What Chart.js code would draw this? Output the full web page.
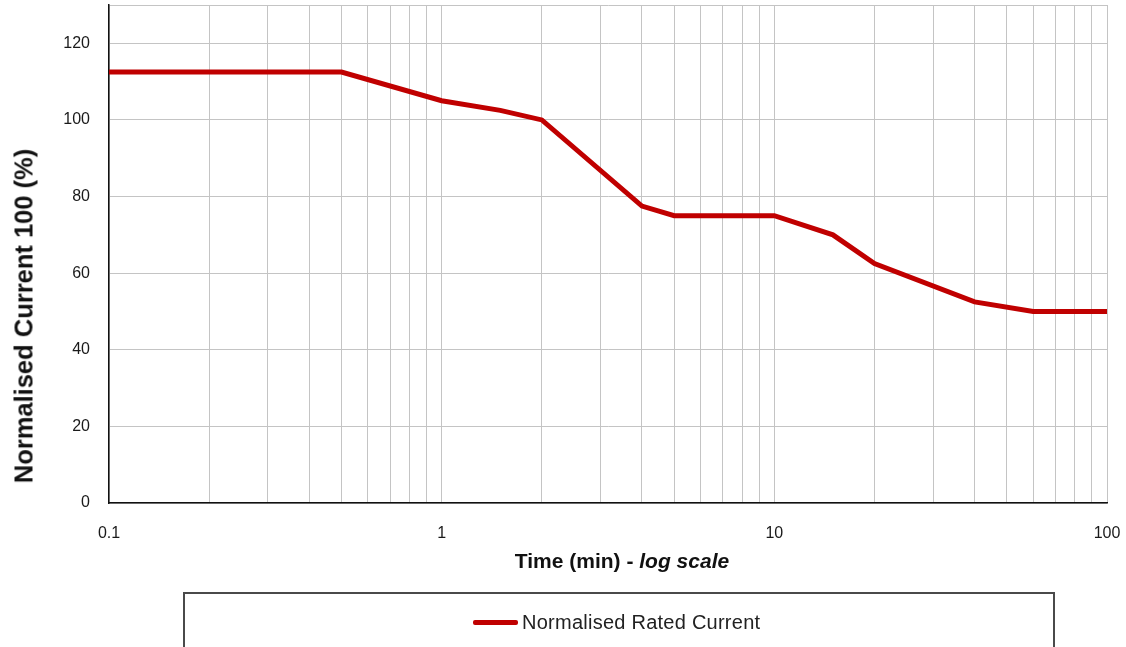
<!DOCTYPE html>
<html>
<head>
<meta charset="utf-8">
<script src="https://cdn.jsdelivr.net/npm/chart.js@4/dist/chart.umd.min.js"></script>
<style>
    html, body { margin: 0; padding: 0; background: #fff; }
    #wrap { position: relative; width: 1126px; height: 647px; overflow: hidden; font-family: "Liberation Sans", Arial, sans-serif; }
    #yTitle {
        position: absolute; left: 24px; top: 316px;
        transform: translate(-50%, -50%) rotate(-90deg);
        font-weight: bold; font-size: 25.5px; color: #111; white-space: nowrap;
    }
    #xTitle {
        position: absolute; left: 622px; top: 561px;
        transform: translate(-50%, -50%);
        font-weight: bold; font-size: 21px; color: #111; white-space: nowrap;
    }
    #legendBox {
        position: absolute; left: 183px; top: 592px; width: 872px; height: 90px;
        border: 2px solid #4a4a4a; box-sizing: border-box;
    }
    #legendItem {
        position: absolute; left: 288px; top: 17px;
        display: flex; align-items: center; font-size: 20px; letter-spacing: 0.25px; color: #222; white-space: nowrap;
    }
    #legendItem .swatch { display: inline-block; width: 45px; height: 5px; border-radius: 2px; margin-right: 4px; }
</style>
</head>
<body>
<div id="wrap">
    <canvas id="ratingChart" width="1126" height="647"></canvas>
    <div id="yTitle">Normalised Current 100 (%)</div>
    <div id="xTitle">Time (min) - <i>log scale</i></div>
    <div id="legendBox"><div id="legendItem"></div></div>
</div>
<script>
// Time points (min) and normalised rated current (%)
const timeMinutes = [0.1, 0.5, 1, 1.5, 2, 4, 5, 10, 15, 20, 40, 60, 100];
const ratedCurrent = [112.5, 112.5, 105, 102.5, 100, 77.5, 75, 75, 70, 62.5, 52.5, 50, 50];

const seriesLabel = 'Normalised Rated Current';
const xTickLabels = [0.1, 1, 10, 100];
const yTickLabels = [0, 20, 40, 60, 80, 100, 120];
const yMax = 130;

const lineColor = '#c00000';
const gridColor = '#c4c4c4';

const points = timeMinutes.map((t, i) => ({ x: t, y: ratedCurrent[i] }));

// drop the extra room Chart.js keeps for overhanging tick labels
function noScalePadding(scale) {
    scale.paddingTop = 0;
    scale.paddingBottom = 0;
    scale.paddingLeft = 0;
    scale.paddingRight = 0;
}

const ctx = document.getElementById('ratingChart').getContext('2d');
const ratingChart = new Chart(ctx, {
    type: 'line',
    data: {
        datasets: [{
            label: seriesLabel,
            data: points,
            borderColor: lineColor,
            backgroundColor: lineColor,
            borderWidth: 5,
            pointRadius: 0,
            tension: 0,
            fill: false
        }]
    },
    options: {
        responsive: false,
        animation: false,
        devicePixelRatio: 1,
        layout: { padding: { top: 5, right: 19, left: 0, bottom: 0 } },
        scales: {
            x: {
                type: 'logarithmic',
                min: 0.1,
                max: 100,
                afterBuildTicks: (scale) => {
                    // grid line at every 1..9 x 10^n inside the range
                    const ticks = [];
                    for (let exp = -1; exp <= 1; exp++) {
                        for (let s = 1; s <= 9; s++) {
                            ticks.push({ value: +(s * Math.pow(10, exp)).toFixed(4) });
                        }
                    }
                    ticks.push({ value: 100 });
                    scale.ticks = ticks;
                },
                afterFit: (scale) => {
                    scale.height = 144;
                    noScalePadding(scale);
                },
                grid: { color: gridColor, lineWidth: 1, drawTicks: false },
                border: { color: '#111', width: 1.5 },
                ticks: {
                    autoSkip: false,
                    maxRotation: 0,
                    padding: 21,
                    color: '#1a1a1a',
                    font: { family: 'Liberation Sans', size: 16 },
                    callback: (value) => xTickLabels.includes(value) ? String(value) : ''
                }
            },
            y: {
                type: 'linear',
                min: 0,
                max: yMax,
                afterBuildTicks: (scale) => {
                    scale.ticks = yTickLabels.map(v => ({ value: v })).concat([{ value: yMax }]);
                },
                afterFit: (scale) => {
                    scale.width = 109;
                    noScalePadding(scale);
                },
                grid: { color: gridColor, lineWidth: 1, drawTicks: false },
                border: { color: '#111', width: 1.5 },
                ticks: {
                    padding: 19,
                    color: '#1a1a1a',
                    font: { family: 'Liberation Sans', size: 16 },
                    callback: (value) => yTickLabels.includes(value) ? String(value) : ''
                }
            }
        },
        plugins: {
            legend: { display: false },
            tooltip: { enabled: false }
        }
    }
});

// Legend built from the dataset itself
const legendItem = document.getElementById('legendItem');
ratingChart.data.datasets.forEach(ds => {
    legendItem.innerHTML = `<span class="swatch" style="background:${ds.borderColor}"></span><span>${ds.label}</span>`;
});
</script>
</body>
</html>
